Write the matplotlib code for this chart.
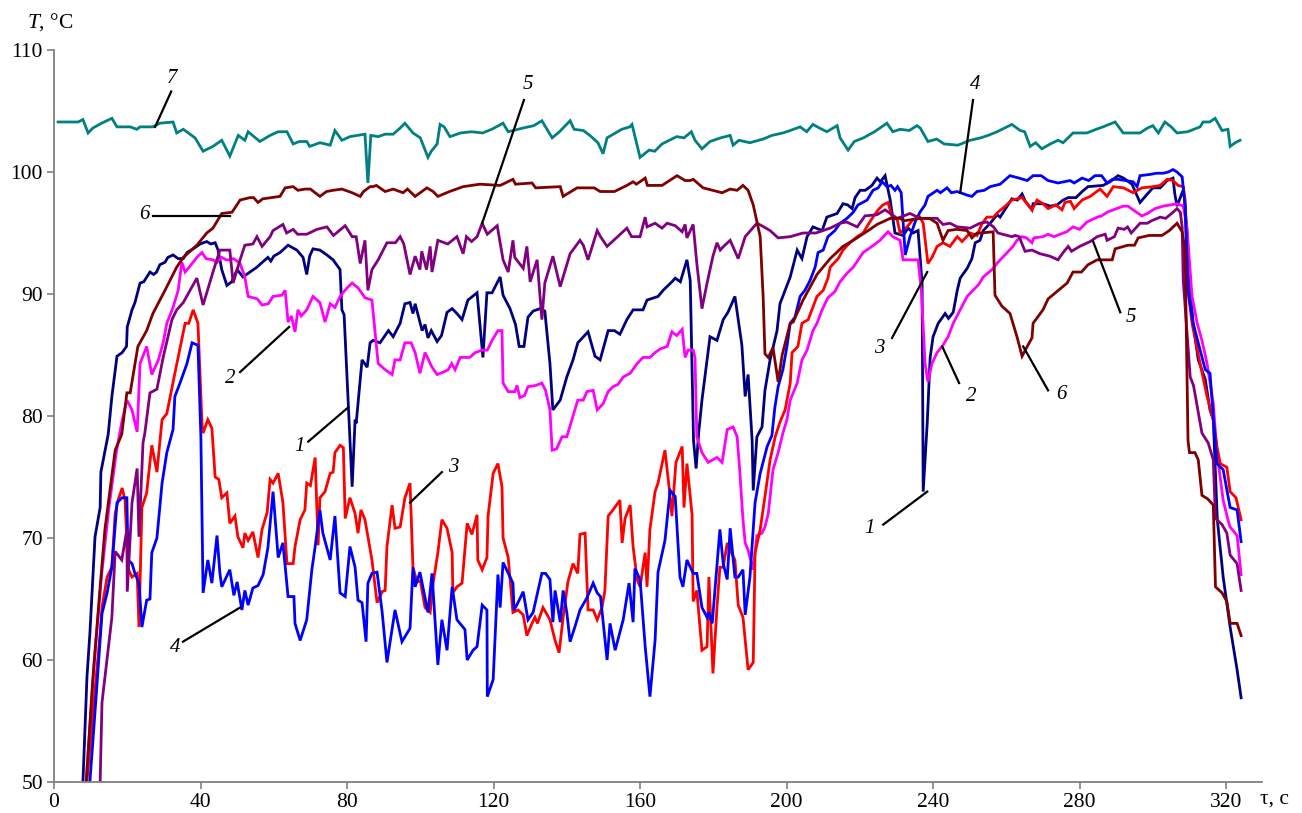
import matplotlib
matplotlib.use("Agg")
import matplotlib.pyplot as plt

plt.rcParams['font.family'] = ['Liberation Serif', 'DejaVu Serif']
plt.rcParams['mathtext.fontset'] = 'custom'
plt.rcParams['mathtext.it'] = 'Liberation Serif:italic'
plt.rcParams['mathtext.rm'] = 'Liberation Serif'

# ---- data: (time s, temperature C) ----
s1 = [(7.9,50),(9,58.6),(9.8,62.2),(11.2,70.1),(12.6,72.5),(12.8,75.4),(13.9,77.1),(14.8,78.5),(15.8,81.6),(17.2,84.9),(18.6,85.2),(19.8,85.7),(20,87.3),(21.3,88.7),(22.1,89.3),(23.5,90.9),(24.5,91.0),(26.2,91.8),(27.2,91.6),(28,91.8),(28.9,92.4),(30.3,92.6),(31.1,93.0),(32.5,93.2),(33.9,92.9),(35.3,92.9),(36.3,93.4),(38,93.7),(39.9,94.1),(41.7,94.3),(42.8,94.1),(44,94.2),(44.8,93.6),(45.8,92.0),(47.2,90.7),(48.5,91.0),(50,92.0),(51.6,91.4),(53.5,91.8),(55.4,92.2),(56.5,92.5),(58.4,93.0),(59.2,92.7),(60,93.1),(61.7,93.4),(63.9,94.0),(66.3,93.6),(68,93.0),(69,91.6),(69.8,93.1),(70.7,93.7),(72.6,93.6),(74.5,93.2),(76.2,92.8),(78.1,92.0),(78.6,88.7),(79.2,88.3),(80.8,78.0),(81.4,74.2),(82.2,79.7),(82.5,79.4),(84.1,84.6),(85.5,84.0),(86.3,86.0),(87.1,86.2),(89,86.0),(91.3,87.0),(92.6,86.5),(94.5,87.6),(95.8,89.2),(97.2,89.3),(98,88.4),(98.6,89.2),(100.5,87.0),(101.3,87.5),(102.1,86.4),(103,87.0),(104.6,86.1),(105.8,86.6),(107.3,88.5),(108.7,88.8),(110,88.4),(111.4,87.9),(113,89.5),(115.5,90.1),(117.1,84.8),(118.2,90.1),(119.6,90.1),(121.8,91.4),(122.6,89.9),(124.5,88.8),(125.3,88.1),(126,87.5),(127,85.7),(128.3,85.7),(129.4,88.1),(130.8,88.6),(132.7,88.8),(134,88.6),(135.4,84.3),(136.2,80.5),(138.2,81.3),(140,83.2),(141.7,84.6),(143,86.0),(145.8,86.9),(147.7,84.9),(149.1,84.6),(151.3,87.0),(153,87.0),(154.5,86.7),(156.4,87.9),(158.1,88.7),(160.8,88.7),(161.9,89.5),(164.9,89.8),(166.3,90.3),(168.7,91.0),(169.6,91.3),(171,91.0),(172.8,92.8),(173.7,91.1),(174.6,78),(175.3,75.7),(176,78.6),(176.9,81.3),(179.1,86.5),(181,86.2),(182.7,87.9),(184,88.5),(185.9,89.8),(187.8,85.8),(188.7,81.6),(189.5,83.4),(190.6,78.0),(190.9,73.9),(191.9,78.3),(193.3,79.1),(194.1,82.1),(195.5,84.6),(197.4,87.0),(198.2,89.2),(199.6,90.3),(201,91.4),(202.9,93.6),(204.2,92.9),(205.6,94.7),(207.2,95.5),(209.7,95.2),(211,96.3),(213.8,96.6),(215.4,97.4),(216.7,97.3),(217.9,97.0),(218.7,97.9),(220.1,98.5),(221.5,98.5),(223.3,98.9),(224.7,99.5),(225.6,99.2),(226.9,99.7),(227.4,99.0),(228.3,97.7),(229.6,95.0),(231.8,94.8),(233.2,95.4),(234.5,95.0),(235.9,95.2),(237,90.9),(237.3,73.8),(238.4,79.4),(239.2,84.8),(240,86.5),(241.4,87.6),(243.3,88.4),(244.2,88.0),(245.5,88.5),(246.6,90.3),(247.4,91.3),(249.3,92.1),(250.6,92.9),(251.5,94.2),(252.8,94.4),(253.7,95.2),(255.6,95.8),(257.5,96.5),(258.3,96.3),(260.2,97.2),(261.5,97.8),(263,97.7),(264.3,98.2),(265.2,97.6),(267,96.9),(267.3,97.4),(270,97.4),(272,97.2),(273.8,97.3),(275.5,97.7),(276.9,97.9),(279,97.9),(280.7,98.4),(282.3,98.8),(286.4,98.9),(288.3,99.2),(290.5,99.7),(292,99.5),(294.3,99.0),(296.5,97.5),(298.5,98.2),(300,98.7),(302,98.7),(303.9,99.3),(305.5,99.5),(306,98.2),(306.6,97.2),(308,98.3),(308.6,98.0),(309.3,95.2),(310.2,90.3),(311,87.6),(312.4,84.6),(314.3,83.0),(315.6,80.5),(316.5,79.7),(317.6,71.5),(319.2,66.8),(321.1,62.7),(323,59.2),(324.1,56.9)]

s2 = [(8.8,50),(11,60),(13,67),(15,72.5),(17,77),(18.5,79.5),(19.9,81.3),(21.3,80.5),(22.7,78.7),(23.5,84.3),(25.3,85.7),(26.7,83.4),(28.5,84.6),(29.8,86.0),(30.8,87.6),(32.5,88.9),(33.9,90.3),(34.9,92.6),(35.8,91.8),(37.7,92.5),(39,93.0),(40.4,93.4),(41.5,92.9),(43.4,92.8),(44.5,92.6),(45.8,93.0),(47,92.8),(48,92.8),(49,92.9),(50.8,92.5),(52.1,91.4),(53,89.8),(55.5,89.6),(56.8,89.1),(58.5,89.2),(59.8,89.8),(62.2,89.9),(63.1,90.3),(63.9,87.7),(64.8,88.2),(65.8,86.9),(66.6,88.7),(67.5,88.2),(69,88.7),(70.7,89.8),(72.6,89.3),(74,87.7),(75.4,89.2),(76.7,88.9),(78.1,89.8),(80,90.5),(81.4,90.9),(83,90.5),(84.9,89.7),(86.8,89.5),(88.5,84.3),(90.4,83.8),(92.3,83.4),(93.1,84.6),(94.5,84.6),(95.8,86.0),(97.5,86.0),(98.6,85.2),(99.9,83.5),(101.3,85.2),(103.2,84.0),(104.6,83.4),(106.3,83.6),(107.6,83.8),(108.6,84.3),(109.5,83.8),(110.9,84.8),(113.5,84.8),(115,85.2),(116.9,85.4),(118.3,85.4),(119.6,86.2),(121.2,87.0),(122.3,87.0),(122.6,82.7),(124,82.0),(125.8,82.0),(126.4,82.5),(127.2,81.5),(128.5,81.7),(129.4,82.4),(131.5,82.5),(133.2,82.7),(134.2,82.1),(135.4,80.5),(136,77.2),(137.2,77.3),(138.7,78.3),(140,78.3),(141.4,79.7),(143,81.3),(144.5,81.3),(145.5,82.0),(147.2,82.1),(148.3,80.5),(149.9,81.0),(151.3,82.0),(152.6,82.4),(154,82.6),(155.4,83.2),(157.3,83.5),(159.2,84.3),(160.8,84.8),(162.7,84.8),(164.1,85.2),(165.5,85.5),(167.4,85.7),(168.7,86.9),(170,86.6),(171.5,87.1),(172.3,84.8),(173.1,85.4),(174.5,85.4),(175,84.8),(175.5,78.3),(176.9,77.0),(178.6,76.2),(181,76.6),(182.4,76.2),(183.8,78.9),(185.4,79.1),(186.5,78.3),(187.2,75.6),(188.1,71.5),(188.7,69.6),(189.5,69.0),(190.9,67.4),(191.9,70.2),(193.3,70.4),(194.1,70.9),(195,72.0),(196.3,75.6),(197.7,77.0),(199,78.6),(200.1,79.7),(201,81.3),(202.9,82.7),(204.2,84.6),(205.6,85.4),(207.2,87.0),(208.3,87.6),(209.7,88.7),(211.3,89.7),(213.2,90.2),(214.6,91.0),(216.5,91.7),(218.2,92.2),(220.9,93.4),(223.3,93.9),(225.5,94.4),(227.7,95.1),(229,94.7),(231,94.4),(231.8,92.8),(233.5,92.8),(235.9,92.8),(236.8,90.3),(237.8,84.3),(238.6,82.8),(239.7,84.3),(241.1,85.2),(242.7,85.8),(244.1,86.5),(245.5,87.6),(247.4,88.7),(249.3,89.8),(250.9,90.3),(252.5,90.8),(253.7,91.4),(256.1,92.0),(257.7,92.6),(260.2,93.4),(261.8,93.9),(262.9,94.4),(264.3,94.7),(265.5,94.6),(267,94.2),(267.5,94.6),(270,94.7),(271.4,94.9),(273,94.7),(274.7,94.9),(276.5,95.1),(278.2,95.5),(280,95.3),(282,95.9),(284.8,96.3),(286,96.4),(287.5,96.7),(289.2,96.9),(291.9,97.2),(293.2,97.2),(294.6,96.9),(297,96.4),(298.5,96.6),(300.6,97.0),(302.8,97.2),(304.7,97.3),(306.6,97.4),(307.5,97.3),(308.3,97.2),(309.3,95.5),(310.7,89.8),(312.1,87.6),(313.4,86.2),(314.8,84.3),(316.5,81.0),(317.5,77.0),(319.2,73.1),(320.5,71.5),(321.1,70.9),(323,70.2),(324.1,67.0)]

s3 = [(9,50),(9.8,52.9),(12.6,62.2),(13.1,64.3),(14.5,66.8),(15.8,67.6),(16.7,72.0),(17.5,73.1),(18.6,74.1),(19.4,73.1),(20.2,67.5),(21.3,66.8),(22.7,67.1),(23.2,62.7),(24,72.5),(25.3,73.7),(26.7,77.6),(28.1,75.4),(29.5,79.7),(30.8,80.2),(33,83.5),(35.8,87.6),(36.8,87.6),(38,88.7),(39.3,87.6),(40.4,79.4),(40.7,78.6),(42,79.7),(43.1,79.0),(44,75.0),(45,74.8),(45.8,73.3),(47.2,73.7),(48,71.2),(49.4,71.8),(50.2,70.1),(51.6,69.2),(52.1,70.4),(53,69.8),(54.3,70.5),(55.7,68.4),(56.8,70.7),(58.2,72.1),(59,74.8),(59.8,74.5),(61.2,75.3),(62.5,72.9),(63.6,67.9),(65.3,67.9),(65.8,69.3),(67.2,71.5),(68.5,72.3),(69,74.5),(70,74.3),(71.3,76.6),(72.1,69.4),(72.6,73.3),(74,73.8),(75.4,75.3),(76.2,75.4),(76.7,77.0),(78.1,77.6),(79,77.4),(79.5,71.6),(80.8,73.3),(82.2,72.0),(83,70.4),(83.8,72.3),(84.9,71.5),(86.8,68.2),(88.2,64.7),(89.6,65.6),(90.4,65.7),(90.9,69.3),(92.3,72.7),(93.1,70.8),(94.5,70.9),(95.8,73.3),(97.2,74.5),(98,67.6),(99.1,66.4),(100,66.5),(101.3,64.3),(102.7,63.9),(103.5,66.3),(104.8,68.8),(105.9,71.5),(107.3,70.8),(108.7,68.8),(108.9,65.5),(110,66.0),(111.4,66.3),(112.8,71.2),(114.1,70.3),(115.5,71.9),(115.7,68.2),(116.9,67.4),(118.2,68.4),(118.5,71.8),(119.9,75.3),(121.2,76.1),(122.3,74.2),(122.6,70.0),(124,68.4),(125.3,63.9),(126.7,64.1),(128.1,63.7),(129.1,62.0),(130.5,63.0),(131.3,63.5),(132,63.0),(133.5,64.3),(135.4,63.3),(136.8,61.6),(137.9,60.6),(139,63.5),(140.3,66.4),(141.7,67.9),(143,67.1),(143.6,70.3),(145,70.4),(145.8,64.1),(147.2,64.1),(148.3,63.3),(149.6,64.3),(150.4,65.7),(151.3,71.8),(152.6,72.3),(154.5,73.1),(155.1,69.6),(155.9,71.6),(157.3,72.7),(158.1,69.3),(159.2,66.6),(160,66.0),(161.4,68.8),(161.9,66.0),(162.7,70.7),(164.1,73.8),(164.9,74.5),(166.8,77.2),(168.2,73.4),(168.7,71.8),(169.8,76.2),(171.5,77.5),(172,72.5),(172.8,76.1),(174.2,71.9),(174.5,64.8),(175.5,65.7),(176.9,60.8),(178.3,61.1),(178.8,66.8),(179.9,58.9),(181,64.3),(181.8,67.6),(182.7,67.6),(183.8,69.6),(184.6,69.0),(185.9,68.2),(186.8,64.5),(188.1,63.5),(189.5,59.2),(190.9,59.8),(191.4,68.8),(192.8,70.7),(194.1,73.4),(195.5,76.4),(196.9,78.3),(198.2,79.5),(199.6,80.5),(201,82.7),(201.5,85.2),(203.1,85.7),(204.2,87.6),(205.9,87.9),(208.3,89.8),(210,90.3),(211.3,91.3),(211.9,92.2),(214.1,92.9),(215.4,93.6),(217.3,94.2),(219.3,94.7),(220.9,95.0),(222.3,95.7),(223.6,96.3),(225,96.9),(226.3,97.3),(227.7,97.5),(228.8,96.3),(230.2,96.1),(231,95.0),(232.9,95.5),(234.5,96.1),(236.4,96.3),(237.3,95.8),(238.6,92.5),(239.7,93.0),(241.1,93.9),(242.7,94.2),(244.6,93.9),(246.6,94.7),(247.9,94.3),(250.1,95.0),(252,94.8),(253.4,95.8),(254.7,96.3),(256.5,96.3),(257.7,96.7),(259.7,97.2),(261.5,97.7),(264.3,97.9),(267,96.9),(268.4,97.7),(270,97.4),(271.4,97.0),(273.5,97.3),(275.2,96.9),(276,97.5),(277.5,97.6),(278.5,97.0),(280.7,97.7),(282.9,98.0),(285.6,98.6),(287.5,98.0),(289.2,98.8),(292,98.7),(294.6,98.3),(297,98.7),(300,98.8),(302,98.9),(303.9,99.4),(305.5,99.3),(306.9,98.9),(308.3,98.8),(308.8,97.7),(309.6,90.3),(310.7,87.6),(312.9,84.3),(314.8,81.6),(316.5,79.7),(317.5,77.5),(318.4,76.1),(320.2,75.8),(321.1,73.8),(322.7,73.3),(324.1,71.5)]

s4 = [(9.8,50),(11.5,57),(13.1,63.8),(14.5,65.5),(15.8,67.6),(17.2,72.9),(18.6,73.3),(19.9,73.3),(20.2,68.2),(21.3,67.9),(22.1,67.1),(23.2,66.3),(24,62.7),(25.3,64.9),(26.2,65.0),(26.7,68.8),(28.1,70.0),(29.5,74.5),(30.8,77.0),(32.5,78.9),(33,81.6),(34.4,82.7),(36.3,84.3),(37.7,86.0),(39.3,85.8),(40.1,78.3),(40.7,65.5),(42,68.2),(43.1,66.3),(44.5,70.2),(45.3,67.1),(45.8,66.0),(48,67.4),(49.1,65.3),(50,66.4),(51.3,64.1),(52.1,65.7),(53,64.5),(54.3,65.9),(55.7,66.1),(57.1,67.0),(58.4,69.2),(59.8,73.8),(61.2,68.4),(62.5,69.6),(63.9,65.2),(65.5,65.2),(65.8,63.0),(67.2,61.6),(69,63.3),(70.4,67.4),(71.3,69.3),(72.6,72.3),(73.4,70.4),(75.4,68.2),(76.7,71.8),(78.1,65.5),(79.5,65.2),(80.8,69.3),(82.2,67.6),(83,64.9),(84.1,64.7),(85.2,61.5),(85.7,66.3),(86.8,67.1),(88.2,67.2),(89.6,63.9),(90.9,59.8),(93.1,64.1),(95,61.5),(97.2,62.6),(98,67.6),(98.6,66.0),(99.9,67.2),(102.1,63.9),(103.2,67.1),(104.8,59.6),(105.9,63.3),(107.3,60.8),(108.7,66.0),(110,63.3),(112.2,62.5),(112.8,60.0),(114.4,60.8),(115.5,61.1),(116.9,64.5),(118.2,64.1),(118.3,57.0),(119.9,58.4),(121.2,67.0),(121.8,64.3),(122.6,68.0),(125.3,66.3),(125.6,64.1),(126.5,64.6),(128.1,65.6),(129.4,63.3),(130.8,63.9),(133.2,67.1),(134.2,67.1),(135.4,66.6),(136.2,63.1),(136.8,65.7),(138.2,63.1),(139,65.7),(140,63.9),(140.9,61.5),(142.2,62.7),(143.6,64.1),(145.5,65.1),(147.2,66.3),(148.3,65.5),(149.2,65.2),(151,60.0),(151.8,63.0),(153.2,60.8),(155.4,63.3),(157,66.3),(158.1,63.1),(158.6,67.5),(160,66.6),(161.4,61.1),(162.7,57.0),(164.1,61.6),(164.9,67.2),(166.8,69.8),(168.2,73.9),(169.6,73.4),(170.9,66.8),(171.7,66.0),(172.8,68.2),(174.5,67.1),(175.5,67.1),(176.9,64.3),(178.3,63.5),(178.8,63.9),(179.7,63.0),(181.8,70.7),(182.7,67.9),(183.8,66.6),(184.6,70.8),(185.9,66.8),(186.8,66.8),(188.1,67.4),(188.7,63.7),(190,66.8),(191.4,72.9),(192.8,75.3),(194.7,77.5),(196,78.4),(196.8,80.7),(197.7,82.4),(199,83.8),(200.1,85.7),(201,87.6),(202.3,88.1),(203.7,89.8),(205,90.3),(206.4,91.1),(207.8,92.2),(208.6,93.4),(210,93.6),(211.3,94.7),(213.2,95.2),(214.6,95.8),(216.5,96.2),(218.2,96.7),(219.5,97.3),(222,97.7),(223.6,98.5),(225,98.7),(226.1,99.2),(227.4,98.8),(228.5,98.9),(229.6,98.5),(230.3,98.8),(231.3,98.3),(232.4,93.2),(233.7,94.7),(235.1,95.9),(236.4,96.7),(237.8,97.3),(238.6,98.0),(241.1,98.5),(242,98.3),(243.8,98.7),(245,98.3),(246.6,98.4),(249.3,98.1),(250.6,98.0),(252,98.4),(254,98.5),(255.6,98.8),(258.3,99.0),(261,99.7),(263.5,99.5),(265.7,99.3),(267.3,99.7),(269.5,99.7),(271.4,99.3),(274.1,99.1),(277.4,99.3),(278.5,99.1),(280.7,99.5),(282.5,99.3),(284.2,99.7),(286,99.7),(287.5,99.1),(289,99.4),(290.5,99.4),(292.5,99.3),(294.6,99.2),(295.7,98.8),(296.5,99.7),(299.2,99.8),(301,99.9),(302.8,99.9),(304.2,100.0),(305.5,100.2),(306.6,100.0),(308,99.6),(308.8,97.2),(309.6,90.3),(311,87.6),(312.9,85.4),(314.3,83.8),(315.6,83.5),(317,78.0),(317.5,76.1),(319.2,75.6),(321.1,72.5),(323,72.3),(324.1,69.7)]

s5 = [(12.6,50),(13.1,56.5),(15.8,63.5),(16.7,68.9),(18.5,68.2),(19.9,70.7),(20,65.6),(21.3,72.9),(22.7,75.7),(23.2,70.1),(24.3,77.8),(24.8,78.6),(26.2,81.9),(28.1,82.2),(29.8,84.8),(32.2,87.9),(33.5,88.7),(35.3,89.3),(37.7,90.6),(39,91.3),(40.7,89.1),(43.4,91.8),(45.3,93.6),(48,93.6),(48.9,90.9),(50.8,92.8),(52.1,94.0),(54.3,94.1),(55.4,94.7),(56.8,93.9),(59,94.7),(59.8,95.2),(62.5,95.7),(63.5,95.0),(65.3,95.3),(66.5,94.9),(69,94.9),(71.8,95.3),(74.5,95.5),(76.3,94.8),(79.5,95.6),(81.4,94.7),(82.5,94.7),(83.6,92.5),(84.9,94.4),(85.7,90.3),(86.8,92.0),(88.5,92.8),(90.9,94.2),(93.2,94.2),(94.5,94.7),(95.5,94.1),(97.2,91.6),(98.6,93.1),(99.9,92.0),(100.4,93.5),(101.7,92.0),(102.7,93.9),(103.2,91.8),(104.8,94.4),(107.5,94.1),(110,94.7),(111.7,93.3),(112.6,94.7),(114,94.3),(115.5,94.7),(116.9,95.8),(118.3,94.9),(121,95.6),(122.6,92.8),(124,91.8),(125.3,94.4),(125.8,93.0),(128.1,92.1),(129.1,93.9),(130,91.0),(131.9,92.8),(133.2,87.9),(134,90.9),(136.2,93.1),(138.2,90.6),(140.9,93.3),(143.6,94.4),(144.5,94.0),(145.8,92.8),(148.3,95.2),(149.2,94.7),(151,93.9),(152.8,94.4),(156.4,95.4),(157.7,94.7),(160,94.7),(161.4,96.3),(161.9,95.5),(164.1,95.8),(166,95.4),(167.4,95.8),(169.6,95.6),(171.5,95.1),(172.3,95.7),(172.8,94.6),(174.5,95.7),(175.5,92.5),(176.9,88.8),(178.3,90.9),(179.9,93.1),(181,94.2),(181.9,93.6),(182.8,93.9),(184.6,94.4),(186.8,92.9),(188.7,94.7),(191.9,95.8),(193.2,95.6),(195.5,95.2),(197.7,94.6),(201,94.7),(204.5,95.0),(208,95.0),(211.9,95.4),(214.6,95.8),(216.4,95.9),(219.3,95.5),(221.4,96.4),(224.7,96.5),(226.9,96.9),(228.3,96.6),(230.2,96.2),(233.7,96.6),(236.5,96.2),(241.1,96.2),(242.7,95.7),(244.6,95.8),(246.6,95.5),(250.1,95.4),(252.8,95.8),(254.7,95.9),(256.5,95.5),(257.7,95.0),(261.5,94.7),(262.4,94.8),(263.5,94.7),(265.1,93.5),(267,93.6),(269.2,93.3),(271.9,93.1),(274.1,92.8),(275.5,93.4),(276.9,93.9),(277.8,93.5),(280,93.9),(282.9,94.3),(284.8,94.7),(287,94.9),(287.5,94.4),(289.5,94.7),(290.5,95.4),(292.2,95.3),(293.1,95.5),(294.1,95.0),(296.5,95.8),(298.5,95.8),(299.6,96.0),(302,96.3),(303.5,96.2),(305.5,96.7),(306.6,97.0),(307.5,96.7),(308,95.5),(308.3,91.1),(310.2,83.2),(311.1,82.5),(313.4,78.6),(315.1,77.8),(316.5,76.4),(317.1,71.6),(318.9,71.1),(320.2,70.4),(321.1,68.6),(323,67.9),(324.1,65.7)]

s6 = [(8.8,50),(10.5,58),(12.6,66),(13.9,70.7),(16.7,77.2),(18.5,78.5),(19.9,81.9),(20.8,81.9),(22.9,85.7),(25.3,87.0),(27,88.4),(30.3,90.3),(33.5,92.2),(35.3,93.0),(39,94.0),(41.7,95.0),(43.4,95.4),(45.8,96.6),(48.6,96.7),(50.8,97.7),(53.5,97.9),(54.5,97.9),(55.7,97.5),(57,97.8),(61.7,98.0),(63.1,98.7),(65.3,98.8),(66.6,98.5),(68.5,98.6),(70,98.6),(72.6,98.0),(74.4,98.4),(76.2,98.5),(78.6,98.6),(81.4,98.3),(83.6,98.0),(84.5,98.4),(86.3,98.8),(87.1,98.8),(88,98.9),(90.4,98.4),(92.6,98.6),(95.3,98.3),(96.5,98.6),(98.6,98.0),(101.8,98.7),(103.5,98.4),(104.8,98.0),(108,98.4),(111.7,98.8),(116.3,99.0),(121.8,98.9),(125.3,99.4),(126,99.0),(130.5,99.1),(131.5,98.7),(138.2,98.8),(139,98.0),(142.8,98.7),(147.5,98.7),(149.1,98.4),(153,98.4),(156.4,98.9),(158.1,99.2),(159,99.0),(161.4,99.5),(162,98.9),(166,98.9),(170.1,99.7),(172.3,99.3),(173.7,99.3),(174.5,99.4),(177.2,98.7),(182.4,98.3),(184.6,98.6),(186.5,98.5),(188.1,98.9),(189.5,98.5),(190.9,97.3),(192.8,94.7),(193.6,89.8),(194.1,85.1),(195,84.8),(196.3,85.6),(197.7,82.8),(198.8,85.0),(201,87.6),(201.8,87.7),(204.5,89.5),(208.3,91.6),(211.9,92.9),(215.4,93.9),(218.2,94.4),(222.3,95.2),(224.7,95.7),(228.3,96.2),(231,96.2),(232,96.0),(236.4,96.2),(239,96.2),(241.1,95.8),(242.7,94.4),(244.1,95.2),(246.5,95.3),(249.3,95.2),(250.6,94.6),(252,95.0),(253,95.0),(256.4,95.1),(256.9,89.9),(258.8,89.0),(261,88.4),(262.9,86.5),(264.3,84.9),(265.7,85.7),(267,86.4),(267.3,87.6),(270,88.7),(271.4,89.6),(276.6,90.9),(278.2,91.8),(280.5,91.8),(282.3,92.4),(284.8,92.8),(288.9,92.8),(289.7,93.7),(293.2,94.0),(295,94.0),(296,94.6),(299,94.8),(302.5,94.8),(304.5,95.2),(306.6,95.8),(308,95.1),(308.8,93.6),(309.6,78.0),(310,77.0),(311.5,77.0),(312.4,76.4),(313.4,73.5),(315,73.2),(316.5,72.7),(317.1,66.0),(318.9,65.5),(320.2,64.8),(321.1,63.0),(323,63.0),(324.1,62.0)]

s7 = [(1.1,104.1),(6.6,104.1),(7.9,104.3),(9.3,103.2),(10.6,103.6),(13,104.0),(15.8,104.4),(17.2,103.7),(20.8,103.7),(22.6,103.5),(23.5,103.7),(27,103.7),(28.9,104.0),(32.5,104.1),(33.5,103.2),(35.3,103.5),(38.5,102.8),(40.7,101.7),(43.4,102.1),(45.8,102.6),(48,101.3),(50.3,103.0),(52.1,102.6),(53,103.3),(56.2,102.5),(59,103.0),(61.2,103.3),(63.6,103.3),(65.3,102.3),(67,102.5),(69,102.5),(69.8,102.1),(72.6,102.4),(75.4,102.2),(76.7,103.4),(78.6,102.6),(80.8,102.9),(84.9,103.1),(85.7,99.1),(86.5,103.0),(88.5,102.9),(90.4,103.1),(92.6,103.1),(94.5,103.6),(95.8,104.0),(98,103.2),(100,102.8),(102.1,101.2),(103,101.7),(104.6,102.3),(105.4,103.9),(106.5,103.7),(108.1,102.9),(111,103.2),(114,103.3),(117,103.2),(119.5,103.5),(122.6,104.0),(124,103.3),(128,103.6),(131,103.8),(133.2,104.2),(136,102.8),(138,103.3),(140.9,104.2),(142,103.5),(144.5,103.4),(146.3,103.0),(148.5,102.4),(149.9,101.5),(151,102.8),(155,103.5),(157.2,103.7),(157.8,103.9),(160,101.2),(162.5,101.8),(164,101.7),(166,102.3),(170,102.9),(172,102.8),(174,103.3),(175,102.6),(176.9,101.9),(179.1,102.5),(182,102.8),(184.6,103.0),(185.4,102.2),(187,102.6),(190,102.4),(193.6,102.7),(196,103.0),(199,103.2),(201,103.4),(203.7,103.7),(205.5,103.3),(207.2,103.9),(209,103.6),(211,103.3),(213.8,103.8),(214.6,102.8),(216.8,101.8),(218.5,102.5),(221,102.8),(224,103.3),(227.4,104.0),(229,103.3),(231,103.5),(233.5,103.4),(235.6,103.8),(236.5,103.6),(238.6,102.5),(241,102.7),(243,102.3),(246.8,102.2),(250.1,102.6),(253,102.8),(255,103.0),(257.5,103.3),(261.5,103.9),(263.8,103.4),(265,103.3),(266.5,102.1),(268,102.4),(269.7,101.9),(272,102.3),(274.1,102.6),(275.5,102.4),(278.2,103.2),(282,103.2),(284.5,103.5),(286.4,103.7),(289.7,104.1),(291.9,103.2),(294,103.2),(296.5,103.2),(298.5,103.6),(300,103.8),(301.5,103.2),(303.3,104.1),(305,103.7),(306.6,103.2),(309.5,103.3),(312.9,103.7),(313.7,104.1),(315.5,104.1),(317,104.4),(318.9,103.4),(320.5,103.5),(321.1,102.1),(322.5,102.4),(323.8,102.6)]

series = [s1, s2, s3, s4, s5, s6, s7]
colors = ['#000080', '#FF00FF', '#FF0000', '#0000FF', '#800080', '#800000', '#008080']

x_ticks = [0, 40, 80, 120, 160, 200, 240, 280, 320]
y_ticks = [50, 60, 70, 80, 90, 100, 110]

# curve labels: (text, text position, leader line start, leader line end)
labels = [
    ('7', (32.2, 107.7), (27.6, 103.7), (32.0, 106.6)),
    ('6', (24.6, 96.5), (27.0, 96.4), (48.1, 96.4)),
    ('5', (129.4, 107.2), (116.9, 95.8), (128.3, 105.9)),
    ('2', (48.0, 83.1), (50.8, 83.6), (64.2, 87.3)),
    ('1', (67.0, 77.5), (69.4, 77.9), (80.3, 80.7)),
    ('3', (108.9, 75.8), (97.2, 72.9), (105.9, 75.4)),
    ('4', (33.0, 61.0), (35.2, 61.5), (50.8, 64.3)),
    ('4', (251.6, 107.2), (247.4, 98.3), (250.9, 105.9)),
    ('3', (225.4, 85.5), (228.8, 86.4), (238.4, 91.8)),
    ('2', (250.4, 81.6), (242.5, 85.7), (247.1, 82.7)),
    ('1', (222.6, 70.8), (226.4, 71.1), (238.4, 73.8)),
    ('6', (274.9, 81.8), (264.6, 85.7), (271.4, 82.1)),
    ('5', (294.0, 88.1), (283.7, 94.3), (291.1, 88.5)),
]

fig = plt.figure(figsize=(13.02, 8.13), dpi=100)
ax = fig.add_axes([54/1302, 31/813, 1208/1302, 732/813])

for s, c in zip(series, colors):
    t = [p[0] for p in s]
    v = [p[1] for p in s]
    ax.plot(t, v, color=c, lw=2.0, solid_joinstyle='miter')

for txt, tp, a, b in labels:
    ax.plot([a[0], b[0]], [a[1], b[1]], color='black', lw=1.6, clip_on=False)
    ax.text(tp[0], tp[1], txt, fontsize=15, style='italic', ha='center', va='center')

ax.set_xlim(0, 329.8)
ax.set_ylim(50, 110)
ax.set_xticks(x_ticks)
ax.set_yticks(y_ticks)
ax.tick_params(direction='out', length=5, width=1.2, color='#808080', labelsize=15.5, pad=3)
for side in ['top', 'right']:
    ax.spines[side].set_visible(False)
for side in ['left', 'bottom']:
    ax.spines[side].set_color('#808080')
    ax.spines[side].set_linewidth(1.3)

fig.text(50/1302, 1 - 22/813, '$T$, °C', fontsize=15.5, ha='center', va='center')
fig.text(1275/1302, 1 - 799/813, 'τ, c', fontsize=15.5, ha='center', va='center')

fig.savefig('out.png', dpi=100)
